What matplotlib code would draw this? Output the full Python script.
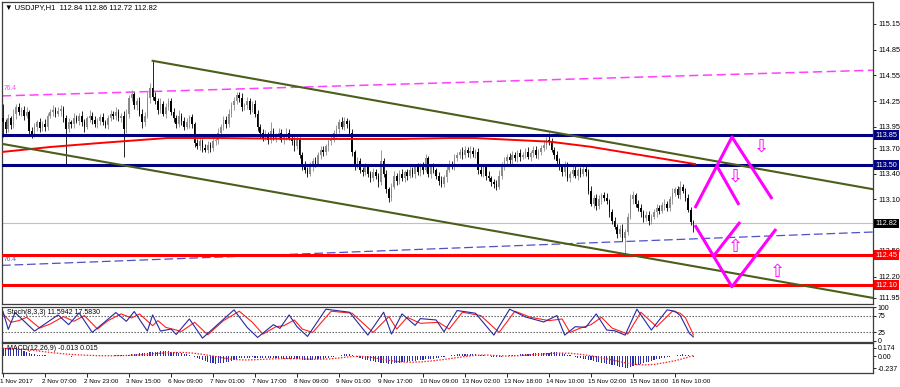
import matplotlib
matplotlib.use("Agg")
import matplotlib.pyplot as plt
import matplotlib.transforms as mtransforms
import numpy as np

plt.rcParams['font.family'] = ['Liberation Sans', 'DejaVu Sans']

# ---------------- data ----------------
closes = [
    114.00,113.92,114.05,113.97,114.10,114.18,114.12,114.15,114.08,114.12,
    113.90,113.86,113.95,114.00,113.93,113.98,113.95,114.08,114.12,114.15,
    114.10,114.13,114.16,114.05,113.92,114.00,113.98,114.05,114.02,114.08,
    114.00,113.95,114.05,114.08,114.03,113.98,114.02,114.06,114.00,113.97,
    114.05,114.10,114.08,114.12,114.05,114.08,113.92,114.10,114.28,114.33,
    114.20,114.25,114.10,114.00,114.08,114.28,114.40,114.30,114.25,114.15,
    114.22,114.10,114.18,114.25,114.12,114.05,113.98,114.08,114.02,113.95,
    114.00,114.06,113.98,113.76,113.72,113.78,113.70,113.68,113.74,113.70,
    113.78,113.80,113.88,113.95,114.03,113.98,114.10,114.20,114.25,114.32,
    114.28,114.18,114.20,114.25,114.15,114.22,114.10,113.95,113.88,113.82,
    113.86,113.80,113.90,113.82,113.85,113.88,113.80,113.84,113.88,113.82,
    113.78,113.72,113.80,113.62,113.50,113.45,113.40,113.48,113.55,113.52,
    113.62,113.68,113.65,113.72,113.78,113.80,113.88,113.92,114.00,113.95,
    114.02,113.98,113.88,113.65,113.50,113.55,113.45,113.42,113.48,113.40,
    113.35,113.42,113.38,113.30,113.55,113.40,113.22,113.12,113.25,113.38,
    113.32,113.40,113.35,113.42,113.38,113.45,113.40,113.48,113.42,113.50,
    113.45,113.58,113.40,113.48,113.44,113.38,113.32,113.28,113.36,113.45,
    113.52,113.50,113.58,113.62,113.66,113.62,113.68,113.64,113.67,113.63,
    113.66,113.45,113.40,113.48,113.38,113.35,113.30,113.28,113.25,113.38,
    113.50,113.55,113.60,113.56,113.62,113.58,113.64,113.60,113.62,113.66,
    113.60,113.64,113.68,113.62,113.66,113.70,113.74,113.80,113.78,113.68,
    113.62,113.55,113.48,113.42,113.50,113.35,113.40,113.45,113.38,113.44,
    113.40,113.46,113.42,113.20,113.05,113.12,113.02,113.10,113.15,113.12,
    113.08,112.95,112.85,112.78,112.70,112.76,112.65,112.72,112.90,113.10,
    113.15,113.05,113.00,112.95,112.88,112.92,112.85,112.90,112.95,113.00,
    112.97,113.03,113.05,113.00,113.10,113.18,113.22,113.15,113.24,113.20,
    113.12,112.98,112.84,112.82]
open_first = 114.05
wick_up = [  # pips above body
    17,4,5,3,6,4,5,3,4,6,3,5,4,3,5,4,6,3,4,5,
    3,5,4,3,4,5,3,6,4,3,5,4,3,6,4,5,3,4,5,3,
    4,5,3,6,4,3,5,6,4,5,3,4,5,6,4,8,6,33,5,4,
    6,3,5,4,3,5,4,6,3,4,5,3,4,3,5,4,3,5,4,3,
    5,4,6,3,5,4,6,4,5,3,4,6,3,5,4,3,4,5,3,4,
    5,3,10,4,3,5,4,3,5,4,3,5,4,3,4,5,3,6,4,5,
    3,4,5,3,4,6,3,5,4,6,4,3,5,4,3,5,4,3,5,4,
    3,5,4,3,13,4,5,3,4,5,3,4,6,3,4,5,3,4,5,3,
    4,5,3,4,5,3,4,5,3,6,4,3,5,4,3,5,4,3,5,4,
    3,4,5,3,4,5,3,4,5,6,4,5,3,4,5,3,4,5,3,4,
    5,3,4,5,3,4,5,3,8,4,3,5,4,3,5,4,3,5,4,3,
    4,5,3,4,6,3,4,5,3,4,5,3,4,5,3,4,5,3,4,6,
    5,3,4,5,3,4,5,3,4,5,3,4,5,3,4,5,3,4,8,4,
    3,4,3,2]
wick_dn = [  # pips below body
    17,4,3,5,4,6,3,4,5,3,6,4,3,5,4,3,5,4,3,5,
    4,3,5,4,40,3,5,4,3,5,4,6,3,4,5,3,4,5,3,4,
    5,3,4,5,3,4,32,4,5,3,4,5,3,6,4,3,5,4,3,5,
    4,3,5,4,3,5,4,3,5,4,3,6,4,5,3,4,5,3,4,5,
    3,4,5,3,4,5,3,4,5,3,4,5,3,4,5,3,4,5,6,4,
    3,5,4,3,5,4,3,5,4,3,4,5,3,4,5,4,4,3,5,4,
    3,5,4,3,5,4,3,5,4,3,4,5,3,4,6,3,4,5,3,4,
    5,3,4,5,3,4,5,5,4,3,5,4,3,4,5,3,4,5,3,4,
    5,3,4,5,3,4,5,3,4,5,3,4,5,3,4,5,3,4,5,3,
    4,5,3,4,5,3,4,5,4,3,4,5,3,4,5,3,4,5,3,4,
    3,5,4,3,5,4,3,5,4,3,5,4,3,5,4,3,5,4,3,5,
    4,3,5,4,3,5,4,3,5,4,3,5,4,3,5,4,3,20,4,3,
    5,4,3,5,4,3,5,4,3,5,4,3,5,4,3,5,4,3,4,3,
    4,3,4,10]

macd_main = [
    .17,.168,.164,.158,.15,.142,.132,.12,.10,.085,
    .065,.05,.04,.032,.025,.02,.016,.013,.011,.01,
    .01,.008,.006,.005,.003,.0,-.005,-.004,.0,.002,
    .0,.002,.004,.003,.005,.006,.004,.007,.008,.01,
    .01,.012,.015,.018,.02,.022,.018,.02,.03,.036,
    .045,.055,.06,.065,.07,.075,.08,.085,.09,.095,
    .098,.10,.10,.098,.094,.088,.08,.07,.06,.05,
    .04,.022,.0,-.02,-.04,-.06,-.08,-.1,-.12,-.135,
    -.145,-.148,-.145,-.14,-.13,-.12,-.11,-.095,-.08,-.06,
    -.045,-.035,-.03,-.028,-.025,-.022,-.025,-.028,-.03,-.032,
    -.03,-.032,-.035,-.038,-.04,-.042,-.045,-.048,-.05,-.052,
    -.055,-.058,-.06,-.065,-.07,-.075,-.078,-.075,-.07,-.065,
    -.06,-.055,-.048,-.04,-.03,-.02,-.01,.0,.015,.03,
    .04,.045,.04,.03,.01,-.01,-.03,-.05,-.07,-.085,
    -.095,-.105,-.115,-.125,-.13,-.138,-.145,-.15,-.148,-.145,
    -.14,-.132,-.125,-.118,-.11,-.1,-.095,-.088,-.08,-.075,
    -.07,-.065,-.06,-.055,-.048,-.04,-.03,-.02,-.01,.0,
    .01,.02,.03,.038,.045,.05,.052,.05,.048,.045,
    .04,.034,.026,.016,.006,.0,-.008,-.015,-.02,-.015,
    -.008,.0,.01,.018,.025,.03,.035,.04,.045,.048,
    .05,.054,.058,.06,.062,.065,.068,.072,.075,.078,
    .08,.08,.075,.065,.05,.035,.02,.005,-.01,-.025,
    -.035,-.048,-.06,-.072,-.085,-.098,-.11,-.12,-.132,-.145,
    -.155,-.165,-.175,-.185,-.198,-.21,-.222,-.237,-.23,-.215,
    -.2,-.185,-.17,-.155,-.14,-.125,-.11,-.095,-.08,-.065,
    -.05,-.038,-.026,-.015,-.005,.005,.015,.025,.035,.04,
    .03,.02,.005,-.013]
signal_bar = [0,4,8,12,16,20,24,28,32,36,40,44,48,52,56,60,64,68,72,76,80,84,88,92,96,
              100,104,108,112,116,120,124,128,132,136,140,144,148,152,156,160,164,168,
              172,176,180,184,188,192,196,200,204,208,212,216,220,224,228,232,236,240,
              244,248,252,256,260,263]
signal_val = [.16,.155,.14,.115,.09,.065,.045,.03,.02,.012,.01,.012,.017,.028,.045,.062,.075,
              .078,.065,.04,.005,-.035,-.065,-.075,-.07,-.06,-.05,-.047,-.05,-.058,-.062,
              -.055,-.035,-.01,.0,-.02,-.055,-.09,-.115,-.12,-.11,-.09,-.065,-.035,-.005,
              .02,.025,.015,.005,.01,.025,.04,.055,.065,.06,.04,.01,-.03,-.075,-.12,-.16,
              -.175,-.165,-.13,-.09,-.035,.015]

stoch_k_bar = [0,2,4.6,12,21,25,29,34,43,47,50,55,57,60,64,66,71,76,88,93,97,103,105.5,109,
               112,116,123,132,139,145,148,152,157,159,165,168,173,180,187,193,199,206,211,
               214,218,222,226,230,233,237,241.5,247,253,256,258,260,261.5,263]
stoch_k_val = [87,34,84,29,77,48,83,25,84,58,87,29,77,29,35,19,65,8,92,40,10,48,37,77,42,13,
               94,85,17,85,20,80,46,66,62,27,90,82,17,94,71,56,75,17,42,40,80,32,30,17,94,32,
               92,88,75,45,22,11.59]
stoch_d_bar = [0,3,6,9,14,18,23,27,31,36,40,45,49,52,57,59,62,68,73,78,84,90,95,99,104,107,
               111,114,118,125,133,141,147,150,154,159,166,170,175,182,189,195,201,208,213,
               216,220,224,228,232,238,243,249,255,258,260,262,263]
stoch_d_val = [80,55,60,70,38,50,72,58,75,35,60,80,68,80,45,60,40,28,55,18,60,88,55,20,42,45,
               62,35,25,88,82,25,72,35,70,52,55,35,85,75,25,88,70,60,65,25,38,48,70,38,20,85,
               42,88,82,68,35,17.58]

ma_bar = [-0.38,17.9,37.0,62.5,82.7,113.1,151.2,170.3,179.8,208.4,223.6,242.7,263.6]
ma_val = [113.655,113.713,113.760,113.818,113.818,113.807,113.807,113.818,113.818,113.775,
          113.717,113.620,113.514]

upper_chan_bar = [57, 331.4]
upper_chan_val = [114.72, 113.22]
lower_chan_bar = [-0.38, 331.4]
lower_chan_val = [113.75, 111.95]
fib_top_bar = [-0.38, 331.4]
fib_top_val = [114.31, 114.61]
fib_bot_bar = [-0.38, 331.4]
fib_bot_val = [112.33, 112.72]

levels_blue = [113.85, 113.50]
levels_red = [112.45, 112.10]
last_price = 112.82

zig_up_bar = [263.6, 277.7, 293.0]
zig_up_val = [113.00, 113.83, 113.106]
zig_up2_bar = [272.0, 280.4]
zig_up2_val = [113.49, 113.036]
zig_dn_bar = [263.6, 277.7, 294.5]
zig_dn_val = [112.80, 112.08, 112.755]
zig_dn2_bar = [270.7, 280.8]
zig_dn2_val = [112.44, 112.837]

arrow_dn_bar = [289.1, 279.2]
arrow_dn_val = [113.713, 113.363]
arrow_up_bar = [279.2, 294.9]
arrow_up_val = [112.545, 112.253]

time_labels = ["1 Nov 2017", "2 Nov 07:00", "2 Nov 23:00", "3 Nov 15:00", "6 Nov 09:00",
               "7 Nov 01:00", "7 Nov 17:00", "8 Nov 09:00", "9 Nov 01:00", "9 Nov 17:00",
               "10 Nov 09:00", "13 Nov 02:00", "13 Nov 18:00", "14 Nov 10:00",
               "15 Nov 02:00", "15 Nov 18:00", "16 Nov 10:00"]
time_label_bars = [16 * i for i in range(len(time_labels))]
price_ticks = [115.15, 114.85, 114.55, 114.25, 113.95, 113.70, 113.40, 113.10, 112.50, 112.20, 111.95]

# ---------------- figure ----------------
W, H = 900, 387
fig = plt.figure(figsize=(W / 100, H / 100), dpi=100)
fig.patch.set_facecolor('white')


def px_axes(x0, y0, x1, y1):
    return [x0 / W, 1 - y1 / H, (x1 - x0) / W, (y1 - y0) / H]


ax1 = fig.add_axes(px_axes(2, 2, 873, 304))
ax2 = fig.add_axes(px_axes(2, 306.5, 873, 341.5))
ax3 = fig.add_axes(px_axes(2, 343, 873, 373))
XL = (-0.38, 331.43)
for a in (ax1, ax2, ax3):
    a.set_xlim(*XL)
    for s in a.spines.values():
        s.set_color('#3c3c3c')
        s.set_linewidth(0.9)
    a.yaxis.tick_right()
    a.tick_params(axis='y', labelsize=5.2, length=2.5, width=0.6, pad=1.5, colors='black')
    a.set_facecolor('white')
ax1.set_xticks([])
ax2.set_xticks([])

# ---- main panel ----
ax1.set_ylim(111.879, 115.407)
ax1.set_yticks(price_ticks)
ax1.set_yticklabels([f"{v:.2f}" for v in price_ticks])

c = np.array(closes)
o = np.array([open_first] + closes[:-1])
top = np.maximum(o, c)
bot = np.minimum(o, c)
hi = top + np.array(wick_up) / 100.0
lo = bot - np.array(wick_dn) / 100.0
bars = np.arange(len(closes))
upc = c >= o
cols = np.where(upc, '#8a8a8a', '#000000')
ax1.vlines(bars, lo, hi, colors=cols, lw=0.6, zorder=3)
ax1.bar(bars, np.maximum(top - bot, 0.006), bottom=bot, width=0.62, color=cols, linewidth=0, zorder=3)

# horizontal levels
ax1.axhline(last_price, color='#c0c0c0', lw=0.8, zorder=1)
for v in levels_blue:
    ax1.axhline(v, color='#000080', lw=2.2, zorder=4)
for v in levels_red:
    ax1.axhline(v, color='#ff0000', lw=2.2, zorder=4)

# channel + MA + fibo
ax1.plot(upper_chan_bar, upper_chan_val, color='#4b5e1c', lw=1.5, zorder=5)
ax1.plot(lower_chan_bar, lower_chan_val, color='#4b5e1c', lw=1.5, zorder=5)
ax1.plot(ma_bar, ma_val, color='#ff0000', lw=1.4, zorder=4)
ax1.plot(fib_top_bar, fib_top_val, color='#ff40ff', lw=1.1, dashes=(6, 3), zorder=2)
ax1.plot(fib_bot_bar, fib_bot_val, color='#5050c8', lw=0.9, dashes=(7, 3), zorder=2)
ax1.text(0.3, fib_top_val[0] + 0.045, "76.4", fontsize=4.8, color='#ff40ff', ha='left', va='bottom')
ax1.text(0.3, fib_bot_val[0] + 0.03, "76.4", fontsize=4.8, color='#5050c8', ha='left', va='bottom')

# magenta zigzag projections
for bx, by in ((zig_up_bar, zig_up_val), (zig_up2_bar, zig_up2_val),
               (zig_dn_bar, zig_dn_val), (zig_dn2_bar, zig_dn2_val)):
    ax1.plot(bx, by, color='#ff00ff', lw=2.2, solid_capstyle='butt', zorder=6)
for bx, by in zip(arrow_dn_bar, arrow_dn_val):
    ax1.text(bx, by, "\u21e9", fontsize=13, color='#ff00ff', ha='center', va='center',
             family='DejaVu Sans', zorder=7)
for bx, by in zip(arrow_up_bar, arrow_up_val):
    ax1.text(bx, by, "\u21e7", fontsize=13, color='#ff00ff', ha='center', va='center',
             family='DejaVu Sans', zorder=7)

# right-side price boxes
tr = mtransforms.blended_transform_factory(ax1.transAxes, ax1.transData)
for v, fc in ((113.85, '#000080'), (113.50, '#000080'), (112.45, '#ff0000'),
              (112.10, '#ff0000'), (last_price, '#000000')):
    ax1.text(1.0 + 2.5 / 871, v, f"{v:.2f}", transform=tr, fontsize=5.2, color='white',
             ha='left', va='center', clip_on=False, zorder=10,
             bbox=dict(boxstyle='square,pad=0.2', fc=fc, ec='none'))

fig.text(5 / W, 1 - 7.5 / H, "\u25bc USDJPY,H1  112.84 112.86 112.72 112.82", fontsize=5.5,
         ha='left', va='center', color='black')

# ---- stochastic ----
ax2.set_ylim(-2, 102)
ax2.set_yticks([0, 25, 75, 100])
ax2.set_yticklabels(["0", "25", "75", "100"])
ax2.tick_params(axis='y', labelsize=5.0, pad=1.0)
for v in (75, 25):
    ax2.axhline(v, color='#555555', lw=0.8, dashes=(1.2, 1.5))
ax2.plot(stoch_d_bar, stoch_d_val, color='#ff2020', lw=0.8)
ax2.plot(stoch_k_bar, stoch_k_val, color='#2828a0', lw=0.8)
ax2.text(5 / 871, 0.93, "Stoch(8,3,3) 11.5942 17.5830", transform=ax2.transAxes, fontsize=5.0,
         ha='left', va='top', color='black')

# ---- MACD ----
ax3.set_ylim(-0.337, 0.267)
ax3.set_yticks([0.174, 0.0, -0.237])
ax3.set_yticklabels(["0.174", "0.00", "-0.237"])
ax3.tick_params(axis='y', labelsize=5.0, pad=1.0)
ax3.bar(np.arange(len(macd_main)), macd_main, width=0.45, color='#2e2eaa', linewidth=0)
ax3.plot(signal_bar, signal_val, color='#ff2020', lw=0.9, dashes=(1.2, 1.2))
ax3.text(5 / 871, 0.93, "MACD(12,26,9) -0.013 0.015", transform=ax3.transAxes, fontsize=5.0,
         ha='left', va='top', color='black')
ax3.set_xticks(time_label_bars)
ax3.set_xticklabels(time_labels)
ax3.tick_params(axis='x', labelsize=4.6, length=3, width=0.6, pad=1.5, colors='black')
offset = mtransforms.ScaledTranslation(-3 / 100, 0, fig.dpi_scale_trans)
for lab in ax3.get_xticklabels():
    lab.set_horizontalalignment('left')
    lab.set_transform(lab.get_transform() + offset)

fig.savefig("out.png", dpi=100, facecolor='white')
